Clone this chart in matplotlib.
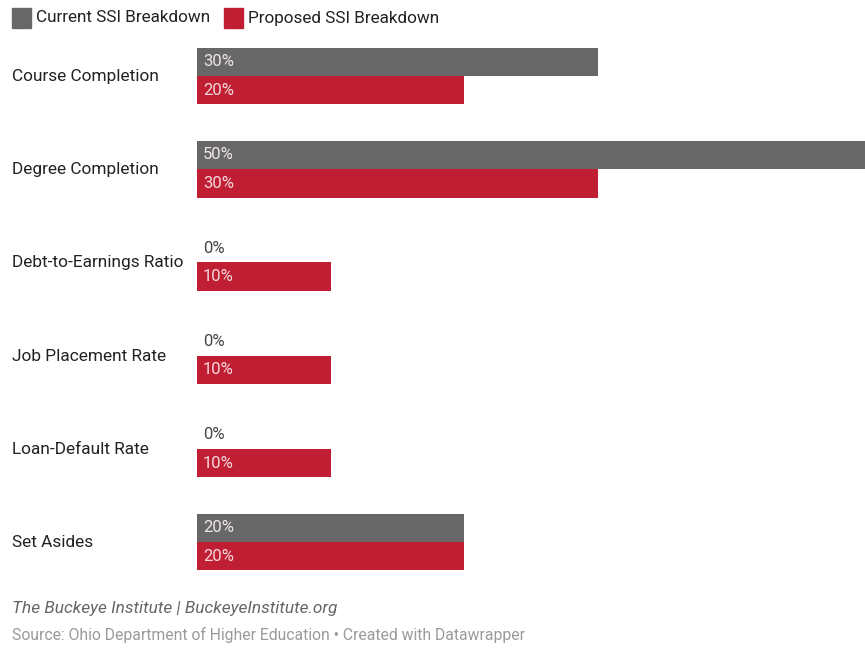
import numpy as np
import matplotlib.pyplot as plt
from matplotlib.patches import Rectangle

plt.rcParams.update({
    "font.family": ["Roboto", "DejaVu Sans"],
    "font.size": 12,
})

# =====================
# Data
# =====================
categories = ["Course Completion", "Degree Completion", "Debt-to-Earnings Ratio",
              "Job Placement Rate", "Loan-Default Rate", "Set Asides"]
current = [30, 50, 0, 0, 0, 20]
proposed = [20, 30, 10, 10, 10, 20]
series_names = ["Current SSI Breakdown", "Proposed SSI Breakdown"]

GREY = "#676767"
RED = "#c01f33"

W, H = 865, 657
fig = plt.figure(figsize=(W / 100, H / 100), dpi=100)
fig.patch.set_facecolor("white")

# axes placed in pixel terms: x 197..865, y groups spaced ~93px
ax = fig.add_axes([197 / W, 1 - 588.6 / H, 668 / W, (588.6 - 29.4) / H])
ax.set_xlim(0, 50)
ax.set_ylim(len(categories) - 0.5, -0.5)
ax.axis("off")

y = np.arange(len(categories))
h = 0.305
ax.barh(y - h / 2, current, height=h, color=GREY, linewidth=0)
ax.barh(y + h / 2, proposed, height=h, color=RED, linewidth=0)

for i, (c, p) in enumerate(zip(current, proposed)):
    ax.text(0.45, i - h / 2, f"{c}%", va="center", ha="left", fontsize=12,
            color="#f0e6e6" if c > 0 else "#444444")
    ax.text(0.45, i + h / 2, f"{p}%", va="center", ha="left", fontsize=12,
            color="#f3d9dc" if p > 0 else "#444444")
    fig.text(12 / W, 1 - (76.5 + 93.2 * i) / H, categories[i], ha="left",
             va="center", fontsize=12.4, color="#222222")

# legend
for x0, col, name in [(12, GREY, series_names[0]), (224, RED, series_names[1])]:
    fig.patches.append(Rectangle((x0 / W, 1 - 28 / H), 19 / W, 20 / H,
                                 transform=fig.transFigure, color=col))
    fig.text((x0 + 24) / W, 1 - 18 / H, name, ha="left", va="center",
             fontsize=12.3, color="#222222")

# footer
fig.text(12 / W, 1 - 609 / H, "The Buckeye Institute | BuckeyeInstitute.org",
         ha="left", va="center", fontsize=12.4, style="italic", color="#666666")
fig.text(12 / W, 1 - 635 / H,
         "Source: Ohio Department of Higher Education \u2022 Created with Datawrapper",
         ha="left", va="center", fontsize=11.3, color="#9a9a9a")

fig.savefig("out.png", dpi=100)
